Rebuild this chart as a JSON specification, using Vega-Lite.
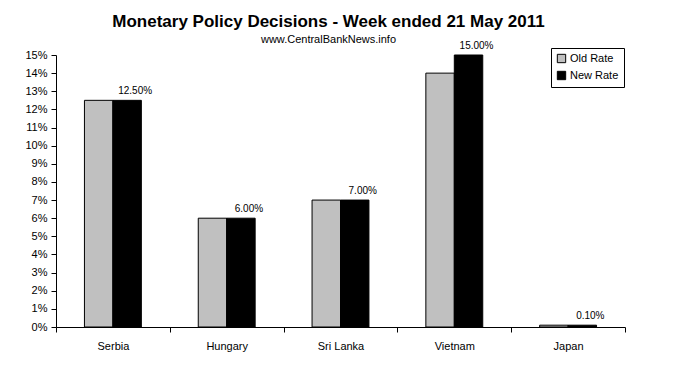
{
  "$schema": "https://vega.github.io/schema/vega-lite/v6.json",
  "width": 569,
  "height": 272,
  "autosize": "none",
  "padding": {"left": 56, "top": 55, "right": 50, "bottom": 40},
  "background": "white",
  "config": {
    "font": "Liberation Sans",
    "view": {"stroke": null}
  },
  "title": {
    "text": "Monetary Policy Decisions - Week ended 21 May 2011",
    "subtitle": "www.CentralBankNews.info",
    "font": "Liberation Sans",
    "fontSize": 17,
    "fontWeight": "bold",
    "color": "black",
    "subtitleFont": "Liberation Sans",
    "subtitleFontSize": 11,
    "subtitleColor": "black",
    "subtitlePadding": 3,
    "anchor": "middle",
    "dx": -12,
    "offset": -5
  },
  "data": {
    "values": [
      {"country": "Serbia", "series": "Old Rate", "rate": 12.5},
      {"country": "Serbia", "series": "New Rate", "rate": 12.5},
      {"country": "Hungary", "series": "Old Rate", "rate": 6.0},
      {"country": "Hungary", "series": "New Rate", "rate": 6.0},
      {"country": "Sri Lanka", "series": "Old Rate", "rate": 7.0},
      {"country": "Sri Lanka", "series": "New Rate", "rate": 7.0},
      {"country": "Vietnam", "series": "Old Rate", "rate": 14.0},
      {"country": "Vietnam", "series": "New Rate", "rate": 15.0},
      {"country": "Japan", "series": "Old Rate", "rate": 0.1},
      {"country": "Japan", "series": "New Rate", "rate": 0.1}
    ]
  },
  "encoding": {
    "x": {
      "field": "country",
      "type": "nominal",
      "sort": ["Serbia", "Hungary", "Sri Lanka", "Vietnam", "Japan"],
      "scale": {"paddingInner": 0, "paddingOuter": 0},
      "axis": {
        "title": null,
        "labelAngle": 0,
        "tickBand": "extent",
        "domainColor": "black",
        "tickColor": "black",
        "tickSize": 5,
        "labelFontSize": 11,
        "labelColor": "black",
        "labelPadding": 8,
        "grid": false
      }
    },
    "xOffset": {
      "field": "series",
      "type": "nominal",
      "sort": ["Old Rate", "New Rate"],
      "scale": {"paddingInner": 0, "paddingOuter": 1.23}
    },
    "y": {
      "field": "rate",
      "type": "quantitative",
      "scale": {"domain": [0, 15], "nice": false},
      "axis": {
        "title": null,
        "values": [0,1,2,3,4,5,6,7,8,9,10,11,12,13,14,15],
        "labelExpr": "datum.value + '%'",
        "grid": false,
        "domainColor": "black",
        "tickColor": "black",
        "tickSize": 5,
        "labelFontSize": 11,
        "labelColor": "black",
        "labelPadding": 4
      }
    }
  },
  "layer": [
    {
      "mark": {"type": "bar", "stroke": "black", "strokeWidth": 1},
      "encoding": {
        "color": {
          "field": "series",
          "type": "nominal",
          "sort": ["Old Rate", "New Rate"],
          "scale": {"domain": ["Old Rate", "New Rate"], "range": ["#C0C0C0", "#000000"]},
          "legend": {
            "title": null,
            "orient": "none",
            "legendX": 495,
            "legendY": -7,
            "strokeColor": "black",
            "fillColor": "white",
            "padding": 5,
            "symbolType": "square",
            "symbolSize": 70,
            "symbolStrokeColor": "black",
            "symbolStrokeWidth": 1,
            "labelFontSize": 11,
            "labelColor": "black",
            "rowPadding": 4,
            "labelOffset": 3
          }
        }
      }
    },
    {
      "transform": [{"filter": "datum.series == 'New Rate'"}],
      "mark": {
        "type": "text",
        "baseline": "bottom",
        "dy": -4,
        "dx": 8,
        "fontSize": 10,
        "color": "black",
        "text": {"expr": "format(datum.rate, '.2f') + '%'"}
      },
      "encoding": {
        "color": {"value": "black"}
      }
    }
  ]
}
